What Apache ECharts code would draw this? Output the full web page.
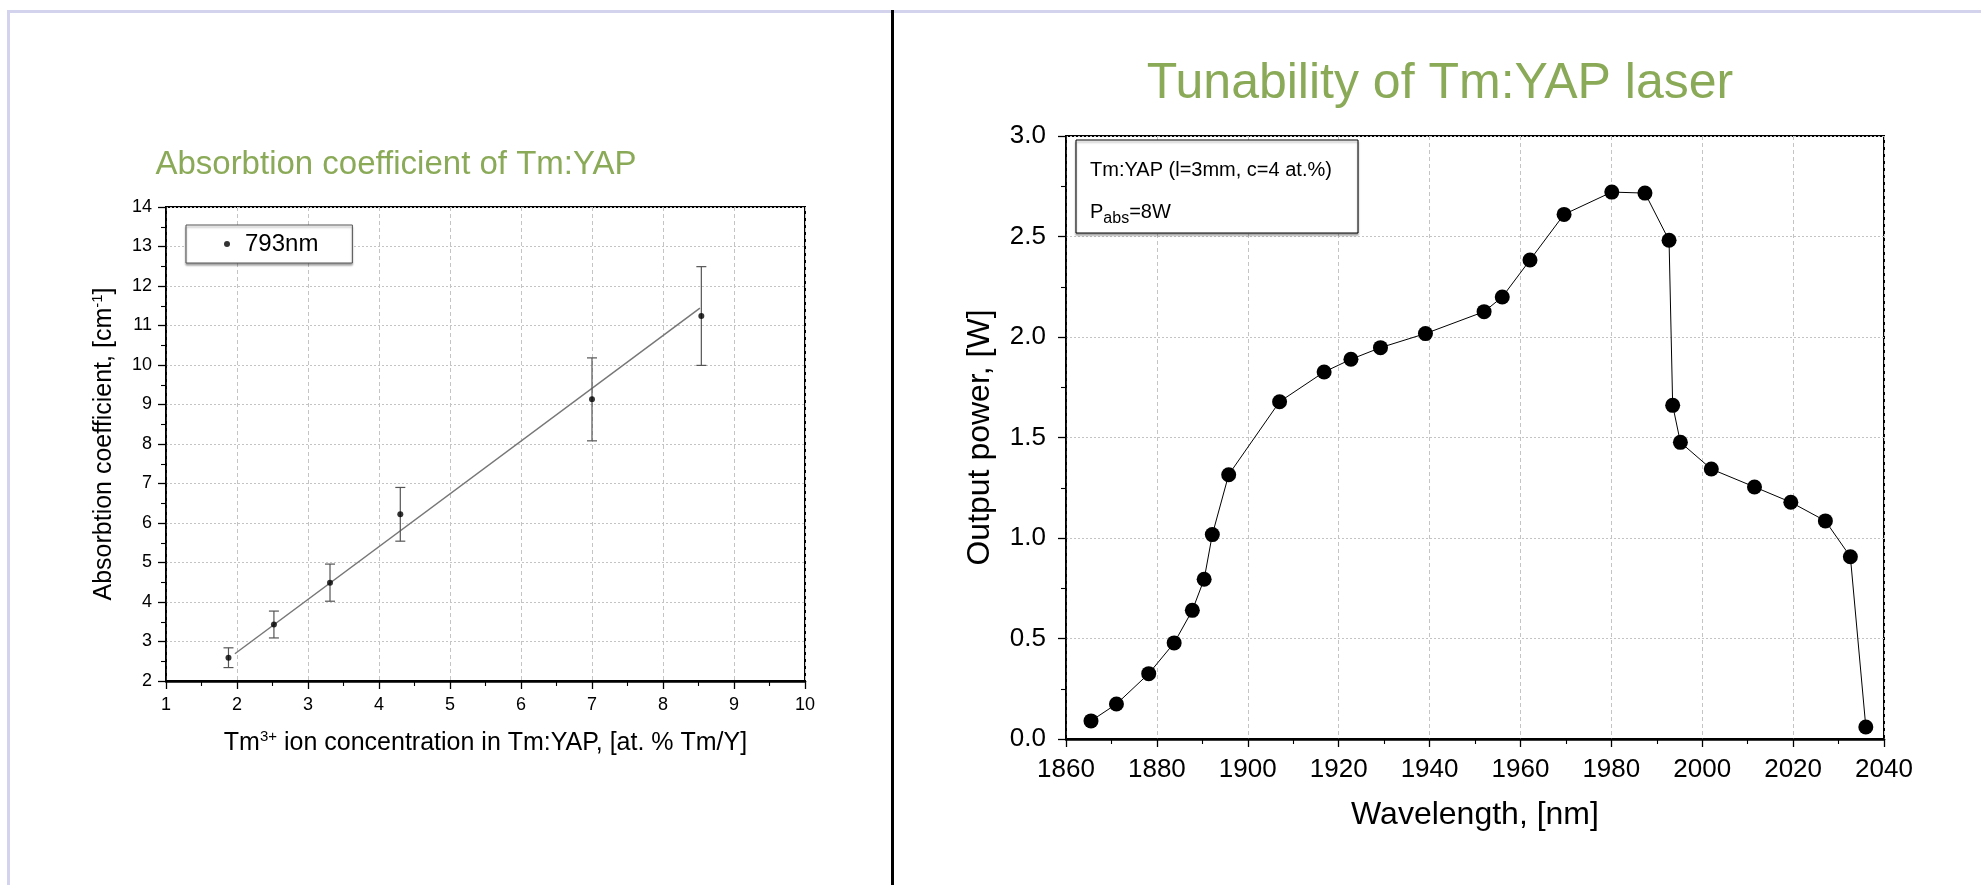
<!DOCTYPE html>
<html>
<head>
<meta charset="utf-8">
<script src="https://cdn.jsdelivr.net/npm/echarts@6/dist/echarts.min.js"></script>
<style>
  html, body { margin: 0; padding: 0; background: #fff; }
  #main { width: 1981px; height: 885px; }
</style>
</head>
<body>
<div id="main"></div>
<script>
// left chart: absorption vs concentration
const concX = [1.88, 2.52, 3.31, 4.30, 7.00, 8.54];
const absorb = [2.59, 3.43, 4.49, 6.22, 9.13, 11.24];
const absorbErr = [0.25, 0.34, 0.47, 0.68, 1.05, 1.25];
const fitX = [1.97, 8.52];
const fitY = [2.69, 11.44];

// right chart: tunability
const wavelength = [1865.5, 1871.1, 1878.2, 1883.8, 1887.8, 1890.4, 1892.2, 1895.8, 1907.0, 1916.8,
  1922.7, 1929.2, 1939.1, 1952.0, 1956.0, 1962.1, 1969.6, 1980.1, 1987.4, 1992.7,
  1993.5, 1995.2, 2002.0, 2011.5, 2019.5, 2027.1, 2032.6, 2036.0];
const power = [0.09, 0.174, 0.325, 0.478, 0.64, 0.795, 1.017, 1.315, 1.678, 1.826,
  1.889, 1.947, 2.017, 2.126, 2.199, 2.383, 2.61, 2.721, 2.716, 2.481,
  1.66, 1.476, 1.343, 1.254, 1.178, 1.085, 0.907, 0.06];

const FONT = '"Liberation Sans", Arial, Helvetica, sans-serif';
const GREEN = '#8aaa58';

let myChart = echarts.init(document.getElementById('main'));

// error bars
function renderErrorBar(params, api) {
  let x = api.value(0), y = api.value(1), e = api.value(2);
  let top = api.coord([x, y + e]);
  let bot = api.coord([x, y - e]);
  let cap = 5;
  let style = { stroke: '#555', lineWidth: 1.2 };
  return {
    type: 'group',
    children: [
      { type: 'line', shape: { x1: top[0], y1: top[1], x2: bot[0], y2: bot[1] }, style: style },
      { type: 'line', shape: { x1: top[0] - cap, y1: top[1], x2: top[0] + cap, y2: top[1] }, style: style },
      { type: 'line', shape: { x1: bot[0] - cap, y1: bot[1], x2: bot[0] + cap, y2: bot[1] }, style: style }
    ]
  };
}

function axisStyle(opt) {
  return {
    axisLine: { show: true, onZero: false, lineStyle: { color: '#000', width: opt.lineW } },
    axisTick: { show: true, inside: false, length: 8, lineStyle: { color: '#000', width: 1.3 } },
    minorTick: { show: true, splitNumber: opt.minor, length: 5, lineStyle: { color: '#000', width: 1.1 } },
    axisLabel: { color: '#000', fontFamily: FONT, fontSize: opt.fs, margin: opt.margin, formatter: opt.fmt },
    splitLine: { show: true, lineStyle: { color: '#c4c4c4', width: 1, type: opt.dash } }
  };
}

myChart.setOption({
  animation: false,
  backgroundColor: '#fff',
  title: [
    {
      text: 'Absorbtion coefficient of Tm:YAP', left: 396, top: 148, textAlign: 'center', padding: 0,
      textStyle: { fontFamily: FONT, fontSize: 33, fontWeight: 'normal', color: GREEN }
    },
    {
      text: 'Tunability of Tm:YAP laser', left: 1440, top: 59, textAlign: 'center', padding: 0,
      textStyle: { fontFamily: FONT, fontSize: 50, fontWeight: 'normal', color: GREEN }
    }
  ],
  legend: {
    data: ['793nm'],
    left: 186, top: 225,
    padding: [7, 34, 7, 38],
    itemWidth: 6, itemHeight: 6,
    borderColor: '#555', borderWidth: 1,
    backgroundColor: '#fff',
    shadowColor: 'rgba(0,0,0,0.35)', shadowBlur: 2, shadowOffsetY: 2,
    textStyle: { fontFamily: FONT, fontSize: 24, color: '#000', padding: [0, 0, 0, 10] }
  },
  grid: [
    { left: 166, top: 207, width: 639, height: 474, show: true, borderColor: '#000', borderWidth: 2, outerBoundsMode: 'none' },
    { left: 1066, top: 136, width: 818, height: 603, show: true, borderColor: '#000', borderWidth: 2, outerBoundsMode: 'none' }
  ],
  xAxis: [
    Object.assign({
      type: 'value', gridIndex: 0, min: 1, max: 10, interval: 1,
      name: '{n|Tm}{s|3+}{n| ion concentration in Tm:YAP, [at. % Tm/Y]}',
      nameLocation: 'middle', nameGap: 48,
      nameTextStyle: {
        fontFamily: FONT, fontSize: 25, color: '#000',
        rich: {
          n: { fontFamily: FONT, fontSize: 25, color: '#000' },
          s: { fontFamily: FONT, fontSize: 15, color: '#000', padding: [0, 0, 13, 0] }
        }
      }
    }, axisStyle({ lineW: 2.5, minor: 2, fs: 18, margin: 15, dash: [4, 3] })),
    Object.assign({
      type: 'value', gridIndex: 1, min: 1860, max: 2040, interval: 20,
      name: 'Wavelength, [nm]', nameLocation: 'middle', nameGap: 60,
      nameTextStyle: { fontFamily: FONT, fontSize: 32, color: '#000' }
    }, axisStyle({ lineW: 2.5, minor: 2, fs: 26, margin: 18, dash: [4, 3], fmt: v => String(v) }))
  ],
  yAxis: [
    Object.assign({
      type: 'value', gridIndex: 0, min: 2, max: 14, interval: 1,
      name: '{n|Absorbtion coefficient, [cm}{s|-1}{n|]}',
      nameLocation: 'middle', nameGap: 48,
      nameTextStyle: {
        fontFamily: FONT, fontSize: 25, color: '#000',
        rich: {
          n: { fontFamily: FONT, fontSize: 25, color: '#000' },
          s: { fontFamily: FONT, fontSize: 15, color: '#000', padding: [0, 0, 13, 0] }
        }
      }
    }, axisStyle({ lineW: 1.6, minor: 2, fs: 18, margin: 14, dash: [2, 2] })),
    Object.assign({
      type: 'value', gridIndex: 1, min: 0, max: 3, interval: 0.5,
      name: 'Output power, [W]', nameLocation: 'middle', nameGap: 70,
      nameTextStyle: { fontFamily: FONT, fontSize: 32, color: '#000' }
    }, axisStyle({ lineW: 1.6, minor: 2, fs: 26, margin: 20, dash: [2, 2], fmt: v => v.toFixed(1) }))
  ],
  series: [
    {
      name: 'fit', type: 'line', xAxisIndex: 0, yAxisIndex: 0,
      data: fitX.map((x, i) => [x, fitY[i]]),
      symbol: 'none', lineStyle: { color: '#777', width: 1.5 }, z: 2
    },
    {
      name: 'err', type: 'custom', xAxisIndex: 0, yAxisIndex: 0,
      data: concX.map((x, i) => [x, absorb[i], absorbErr[i]]),
      encode: { x: 0, y: 1 },
      renderItem: renderErrorBar, z: 3
    },
    {
      name: '793nm', type: 'scatter', xAxisIndex: 0, yAxisIndex: 0,
      data: concX.map((x, i) => [x, absorb[i]]),
      symbol: 'circle', symbolSize: 6, itemStyle: { color: '#000' }, z: 4
    },
    {
      name: 'tuning', type: 'line', xAxisIndex: 1, yAxisIndex: 1,
      data: wavelength.map((x, i) => [x, power[i]]),
      symbol: 'circle', symbolSize: 15, showAllSymbol: true,
      lineStyle: { color: '#000', width: 1 }, itemStyle: { color: '#000' }, z: 4
    }
  ],
  graphic: [
    { type: 'rect', shape: { x: 7, y: 10, width: 1974, height: 3 }, style: { fill: '#d3d3ee' }, silent: true },
    { type: 'rect', shape: { x: 7, y: 10, width: 3, height: 875 }, style: { fill: '#d3d3ee' }, silent: true },
    { type: 'rect', shape: { x: 891, y: 10, width: 3, height: 875 }, style: { fill: '#000' }, silent: true },
    {
      type: 'rect', z: 10, shape: { x: 1076, y: 140, width: 282, height: 93 },
      style: { fill: '#fff', stroke: '#000', lineWidth: 1, shadowColor: 'rgba(0,0,0,0.35)', shadowBlur: 2, shadowOffsetY: 2 }
    },
    {
      type: 'text', z: 11, x: 1090, y: 170,
      style: { text: 'Tm:YAP (l=3mm, c=4 at.%)', fill: '#000', fontFamily: FONT, fontSize: 20, verticalAlign: 'middle', textVerticalAlign: 'middle' }
    },
    {
      type: 'text', z: 11, x: 1090, y: 212,
      style: {
        text: '{n|P}{b|abs}{n|=8W}', fill: '#000', fontFamily: FONT, fontSize: 20,
        verticalAlign: 'middle', textVerticalAlign: 'middle',
        rich: {
          n: { fontFamily: FONT, fontSize: 20, fill: '#000', color: '#000' },
          b: { fontFamily: FONT, fontSize: 16, fill: '#000', color: '#000', padding: [14, 0, 0, 0] }
        }
      }
    }
  ]
});
</script>
</body>
</html>
